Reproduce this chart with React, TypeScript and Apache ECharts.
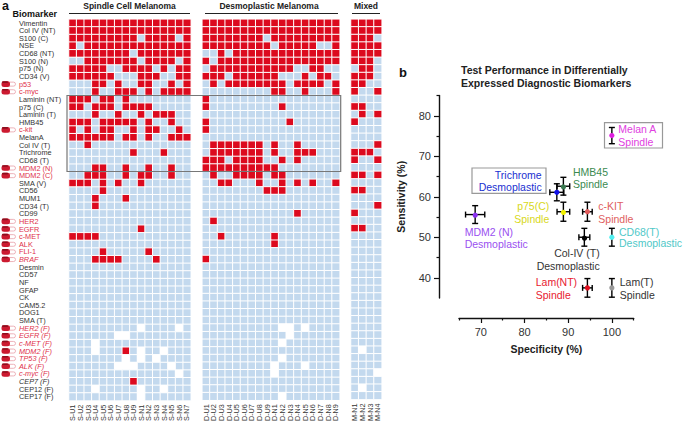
import React, { useEffect, useRef } from "react";
import * as echarts from "echarts";

const biomarkers = ["Vimentin","Col IV (NT)","S100 (C)","NSE","CD68 (NT)","S100 (N)","p75 (N)","CD34 (V)","p53","c-myc","Laminin (NT)","p75 (C)","Laminin (T)","HMB45","c-kit","MelanA","Col IV (T)","Trichrome","CD68 (T)","MDM2 (N)","MDM2 (C)","SMA (V)","CD56","MUM1","CD34 (T)","CD99","HER2","EGFR","c-MET","ALK","FLI-1","BRAF","Desmin","CD57","NF","GFAP","CK","CAM5.2","DOG1","SMA (T)","HER2 (F)","EGFR (F)","c-MET (F)","MDM2 (F)","TP53 (F)","ALK (F)","c-myc (F)","CEP7 (F)","CEP12 (F)","CEP17 (F)"];
const redLabels = ["p53","c-myc","c-kit","MDM2 (N)","MDM2 (C)","HER2","EGFR","c-MET","ALK","FLI-1","BRAF","HER2 (F)","EGFR (F)","c-MET (F)","MDM2 (F)","TP53 (F)","ALK (F)","c-myc (F)"];
const italicLabels = ["BRAF","HER2 (F)","EGFR (F)","c-MET (F)","MDM2 (F)","TP53 (F)","ALK (F)","c-myc (F)","CEP7 (F)"];

const spindleCases = ["S-U1","S-U2","S-U3","S-U4","S-U5","S-U6","S-U7","S-U8","S-U9","S-N1","S-N2","S-N3","S-N4","S-N5","S-N6","S-N7"];
const desmoCases = ["D-U1","D-U2","D-U3","D-U4","D-U5","D-U6","D-U7","D-U8","D-U9","D-N1","D-N2","D-N3","D-N4","D-N5","D-N6","D-N7","D-N8","D-N9"];
const mixedCases = ["M-N1","M-N2","M-N3","M-N4"];

// 1 positive, 0 negative, w not available
const spindleRows = [
"1111111111111111","1111111111111111","1111111110111101","1011111111111111","1111111101111111",
"0011111110111101","1111100111101011","1111110001110011","0001101001100101","0001001110101111",
"1110110100000000","1101110111100000","0001001001011100","1110111110100100","1010110010110010",
"1111110110100111","0010000000000000","0000000010001000","0000000000000000","0001100100100100",
"0011100101100100","1110101001000000","0000100000000000","0001000100000000","0001000000000000",
"0000000000000000","0000000000000000","0000000001000000","1111000000000000","0000000000000000",
"0000100000100000","0001111000010000","0000000000000000","0000000000000000","0000000000000000",
"0000000000000000","0000000000000000","0000000000000000","0000000000000000","0000000000000000",
"000000000w0000w0","000000ww00000000","000w000000000000","000w00010w00w000","0000000w0w0w0000",
"000000www0000w00","00000000000000w0","0000000010000000","000w00000w00w000","000000000w000000"];
const desmoRows = [
"111111111111111111","111111111111111111","111111110111111111","111111111011111001","001011111111111111",
"101111111111111111","011111111111001100","111011111100010110","010111111110111101","000000000110010001",
"100000000000000000","100000000010000000","000000000000000000","100000000001000000","100000000000000000",
"000000000000000000","011111110100100000","011111110100111000","111011110010100000","111111111100000000",
"010011110110000000","001100010010101001","000000001110000000","000000000000000000","000000000000000000",
"000000000000100000","010000000000000000","000000000000000000","001000000100000000","000000000100000000",
"000000000000000000","100000000000000000","000000000000000000","000000000000000000","000000000000000000",
"000000000000000000","000000000000000000","000000000000000000","000000000000000000","000000000000000000",
"0000000000ww0w0000","00000000000w000000","0000000000w0000000","000000000000000000","0000000000w0000000",
"000000000w000w0000","000000000w00000000","000000000000000000","000000000000000000","0000000000w0000000"];
const mixedRows = [
"1111","1111","1110","1111","1111","1110","0110","1110","1100","1001",
"0000","1100","0101","1000","0000","0000","0001","1110","1001","0000",
"1101","0000","1100","0000","0001","1000","0000","1100","0000","0000",
"0000","0000","0000","0000","0000","0000","0000","0000","0000","0000",
"0000","0000","0000","0w00","0000","0000","000w","0000","0w00","0000"];

// specificity, sensitivity, x error, y error
const testNames = ["Melan A","Trichrome","HMB45","p75(C)","c-KIT","MDM2 (N)","Col-IV (T)","CD68(T)","Lam(NT)","Lam(T)"];
const specificity = [100, 87.4, 88.9, 88.9, 94.4, 68.7, 93.7, 100, 94.4, 100];
const sensitivity = [75.1, 61.1, 62.6, 56.3, 56.3, 55.6, 50, 50, 37.5, 37.5];
const specificityErr = [0, 1.6, 1.45, 1.45, 1.1, 2.2, 1.25, 0, 1.1, 0];
const sensitivityErr = [2, 2.1, 2.2, 2.35, 2.35, 2.2, 2.2, 2.2, 2.3, 2.3];
const pointColors = ["#e020e0","#1010e8","#3a7a50","#f2f200","#e05a5a","#8a30f0","#000000","#50f0f0","#e01020","#999999"];

const xTicks = [70, 80, 90, 100];
const xMinorTicks = [65, 75, 85, 95, 105];
const yTicks = [40, 50, 60, 70, 80];
const yMinorTicks = [45, 55, 65, 75, 85];

const FONT = '"Liberation Sans", Arial, sans-serif';
const RED = "#dc0a1e";
const BLUE = "#c3d9ee";
const BLACK = "#222222";
const ROW_FONT = 7.3;

function heat(rows: string[], idx: number) {
  const data: number[][] = [];
  rows.forEach((r, y) => {
    r.split("").forEach((c, x) => {
      data.push([x, y, c === "1" ? 1 : c === "w" ? 2 : 0]);
    });
  });
  return {
    type: "heatmap", xAxisIndex: idx, yAxisIndex: idx, data, silent: true,
    itemStyle: { borderColor: "#ffffff", borderWidth: 1 }, progressive: 0,
  };
}

function txt(text: string, x: number, y: number, fill: string, size: number, opts: any = {}) {
  return {
    type: "text", x, y, silent: true, z: 20, rotation: opts.rotation || 0,
    style: {
      text, x: 0, y: 0, fill, font: `${opts.bold ? "bold " : ""}${size}px ${FONT}`,
      align: opts.align || "left", textAlign: opts.align || "left",
      verticalAlign: "middle", textVerticalAlign: "middle",
    },
  };
}
function pair(a: string, b: string, x: number, y1: number, y2: number, fill: string, align = "left") {
  return [txt(a, x, y1, fill, 10.5, { align }), txt(b, x, y2, fill, 10.5, { align })];
}
function box(x: number, y: number, w: number, h: number, stroke: string, lw = 1) {
  return { type: "rect", silent: true, z: 15, shape: { x, y, width: w, height: h }, style: { fill: "none", stroke, lineWidth: lw } };
}
function rule(x1: number, x2: number, y: number) {
  return { type: "line", silent: true, z: 15, shape: { x1, y1: y, x2, y2: y }, style: { stroke: "#222", lineWidth: 1 } };
}

function heatAxes(cases: string[], left: number, width: number, idx: number) {
  return {
    grid: { left, width, top: 19.3, height: 381.5, containLabel: false },
    x: {
      type: "category", gridIndex: idx, data: cases, position: "bottom",
      axisLine: { show: false }, axisTick: { show: false }, splitLine: { show: false },
      axisLabel: { interval: 0, rotate: 90, margin: 4, fontSize: 7.2, fontFamily: FONT, color: "#333" },
    },
    y: {
      type: "category", gridIndex: idx, data: biomarkers, inverse: true,
      axisLine: { show: false }, axisTick: { show: false }, splitLine: { show: false },
      axisLabel: idx === 0 ? {
        interval: 0, margin: 50, align: "left", fontSize: ROW_FONT, fontFamily: FONT,
        formatter: (v: string) => {
          const key = (redLabels.includes(v) ? "r" : "k") + (italicLabels.includes(v) ? "i" : "n");
          return `{${key}|${v}}`;
        },
        rich: {
          rn: { color: "#e0304a", fontSize: ROW_FONT, fontFamily: FONT },
          ri: { color: "#e0304a", fontSize: ROW_FONT, fontFamily: FONT, fontStyle: "italic" },
          kn: { color: "#333", fontSize: ROW_FONT, fontFamily: FONT },
          ki: { color: "#333", fontSize: ROW_FONT, fontFamily: FONT, fontStyle: "italic" },
        },
      } : { show: false },
    },
  };
}

export default function App() {
  const ref = useRef<HTMLDivElement>(null);
  useEffect(() => {
    const chart = echarts.init(ref.current!, null, { renderer: "svg" });
    const a0 = heatAxes(spindleCases, 69, 121.8, 0);
    const a1 = heatAxes(desmoCases, 202.3, 137.4, 1);
    const a2 = heatAxes(mixedCases, 351, 30.7, 2);

    const valueAxisBase = { type: "value", gridIndex: 3, splitLine: { show: false } };
    const line = { show: true, lineStyle: { color: "#111", width: 1.4 } };

    const pillRows = redLabels.map((n) => [0, biomarkers.indexOf(n)]);
    const errData = testNames.map((_, i) => [specificity[i], sensitivity[i], specificityErr[i], sensitivityErr[i], i]);

    const option: any = {
      animation: false,
      backgroundColor: "#ffffff",
      visualMap: {
        show: false, type: "piecewise", dimension: 2, seriesIndex: [0, 1, 2],
        pieces: [
          { value: 0, color: BLUE },
          { value: 1, color: RED },
          { value: 2, color: "#ffffff" },
        ],
      },
      grid: [a0.grid, a1.grid, a2.grid, { left: 459, width: 174.7, top: 95.5, height: 202.5 }],
      xAxis: [
        a0.x, a1.x, a2.x,
        {
          ...valueAxisBase, min: 65, max: 105, interval: 5, position: "bottom", offset: 20,
          axisLine: line,
          axisTick: { show: true, length: 5, customValues: xTicks, lineStyle: { color: "#111", width: 1.2 } },
          axisLabel: { customValues: xTicks, margin: 8, fontSize: 11, fontFamily: FONT, color: "#333" },
          name: "Specificity (%)", nameLocation: "middle", nameGap: 25,
          nameTextStyle: { fontSize: 10.5, fontWeight: "bold", fontFamily: FONT, color: BLACK },
        },
        {
          ...valueAxisBase, min: 65, max: 105, interval: 5, position: "bottom", offset: 20,
          axisLine: { show: false }, axisLabel: { show: false },
          axisTick: { show: true, length: 2.5, customValues: xMinorTicks, lineStyle: { color: "#111", width: 1.2 } },
        },
      ],
      yAxis: [
        a0.y, a1.y, a2.y,
        {
          ...valueAxisBase, min: 35, max: 85, interval: 5, position: "left", offset: 20,
          axisLine: line,
          axisTick: { show: true, length: 5, customValues: yTicks, lineStyle: { color: "#111", width: 1.2 } },
          axisLabel: { customValues: yTicks, margin: 8, fontSize: 11, fontFamily: FONT, color: "#333" },
          name: "Sensitivity (%)", nameLocation: "middle", nameGap: 33,
          nameTextStyle: { fontSize: 10.5, fontWeight: "bold", fontFamily: FONT, color: BLACK },
        },
        {
          ...valueAxisBase, min: 35, max: 85, interval: 5, position: "left", offset: 20,
          axisLine: { show: false }, axisLabel: { show: false },
          axisTick: { show: true, length: 2.5, customValues: yMinorTicks, lineStyle: { color: "#111", width: 1.2 } },
        },
      ],
      series: [
        heat(spindleRows, 0),
        heat(desmoRows, 1),
        heat(mixedRows, 2),
        {
          type: "custom", xAxisIndex: 0, yAxisIndex: 0, data: pillRows, silent: true, clip: false,
          encode: { x: 0, y: 1 },
          renderItem: (_p: any, api: any) => {
            const y = api.coord([0, api.value(1)])[1];
            return {
              type: "group",
              children: [
                { type: "rect", shape: { x: 3, y: y - 2, width: 12.5, height: 4, r: 2 }, style: { fill: "#fff", stroke: "#e8a0a8", lineWidth: 0.8 } },
                { type: "rect", shape: { x: 1.5, y: y - 2.8, width: 8.5, height: 5.6, r: 2.5 }, style: { fill: "#cc1a30" } },
                { type: "rect", shape: { x: 2, y: y - 2.8, width: 6, height: 1.6, r: 0.8 }, style: { fill: "#8c0f1e" } },
              ],
            };
          },
        },
        {
          type: "custom", xAxisIndex: 3, yAxisIndex: 3, data: errData, silent: true,
          encode: { x: 0, y: 1 },
          renderItem: (_p: any, api: any) => {
            const [vx, vy, ex, ey, i] = [0, 1, 2, 3, 4].map((d) => api.value(d));
            const c = api.coord([vx, vy]);
            const top = api.coord([vx, vy + ey]);
            const bot = api.coord([vx, vy - ey]);
            const l = api.coord([vx - ex, vy]);
            const r = api.coord([vx + ex, vy]);
            const st = { stroke: "#000", lineWidth: 1.4 };
            const seg = (x1: number, y1: number, x2: number, y2: number) => ({ type: "line", shape: { x1, y1, x2, y2 }, style: st });
            const children: any[] = [
              seg(top[0], top[1], bot[0], bot[1]),
              seg(top[0] - 3, top[1], top[0] + 3, top[1]),
              seg(bot[0] - 3, bot[1], bot[0] + 3, bot[1]),
            ];
            if (ex > 0) {
              children.push(seg(l[0], l[1], r[0], r[1]), seg(l[0], l[1] - 3, l[0], l[1] + 3), seg(r[0], r[1] - 3, r[0], r[1] + 3));
            }
            children.push({ type: "circle", shape: { cx: c[0], cy: c[1], r: 2.6 }, style: { fill: pointColors[i] } });
            return { type: "group", children };
          },
        },
      ],
      graphic: {
        elements: [
          txt("a", 2, 5.5, "#111", 12.5, { bold: true }),
          txt("b", 399, 72, "#111", 13, { bold: true }),
          txt("Biomarker", 12.5, 13.5, "#111", 9, { bold: true }),
          txt("Spindle Cell Melanoma", 129.5, 5.5, "#222", 8.5, { bold: true, align: "center" }),
          txt("Desmoplastic Melanoma", 269, 5.5, "#222", 8.5, { bold: true, align: "center" }),
          txt("Mixed", 366, 5.5, "#222", 8.5, { bold: true, align: "center" }),
          rule(69, 190, 13.5), rule(205, 338, 13.5), rule(352, 380, 13.5),
          box(67, 95.5, 273.7, 76, "#777777", 1.2),
          txt("Test Performance in Differentially", 461, 70, "#222", 10.5, { bold: true }),
          txt("Expressed Diagnostic Biomarkers", 461, 83, "#222", 10.5, { bold: true }),
          box(604.5, 122.7, 58, 25.3, "#999999", 1.2),
          box(472, 168, 74, 25.3, "#999999", 1.2),
          ...pair("Melan A", "Spindle", 618.3, 129, 141.7, "#e040e0"),
          ...pair("Trichrome", "Desmoplastic", 541.7, 174.7, 187.3, "#2030d0", "right"),
          ...pair("HMB45", "Spindle", 573, 171.7, 184.3, "#3a8a50"),
          ...pair("p75(C)", "Spindle", 549.3, 206.3, 219, "#d8d820", "right"),
          ...pair("c-KIT", "Spindle", 598.3, 206.3, 219, "#e06060"),
          ...pair("MDM2 (N)", "Desmoplastic", 464.7, 231.7, 244, "#9a50f0"),
          ...pair("Col-IV (T)", "Desmoplastic", 599.7, 253.3, 265.7, "#333333", "right"),
          ...pair("CD68(T)", "Desmoplastic", 619, 231.5, 242.5, "#50c8c8"),
          ...pair("Lam(NT)", "Spindle", 535.7, 282.3, 294.7, "#e82030"),
          ...pair("Lam(T)", "Spindle", 619.7, 282.3, 294.7, "#333333"),
        ],
      },
    };
    chart.setOption(option);
    return () => chart.dispose();
  }, []);
  return <div ref={ref} style={{ position: "absolute", left: 0, top: 0, width: 685, height: 424, background: "#fff" }} />;
}
